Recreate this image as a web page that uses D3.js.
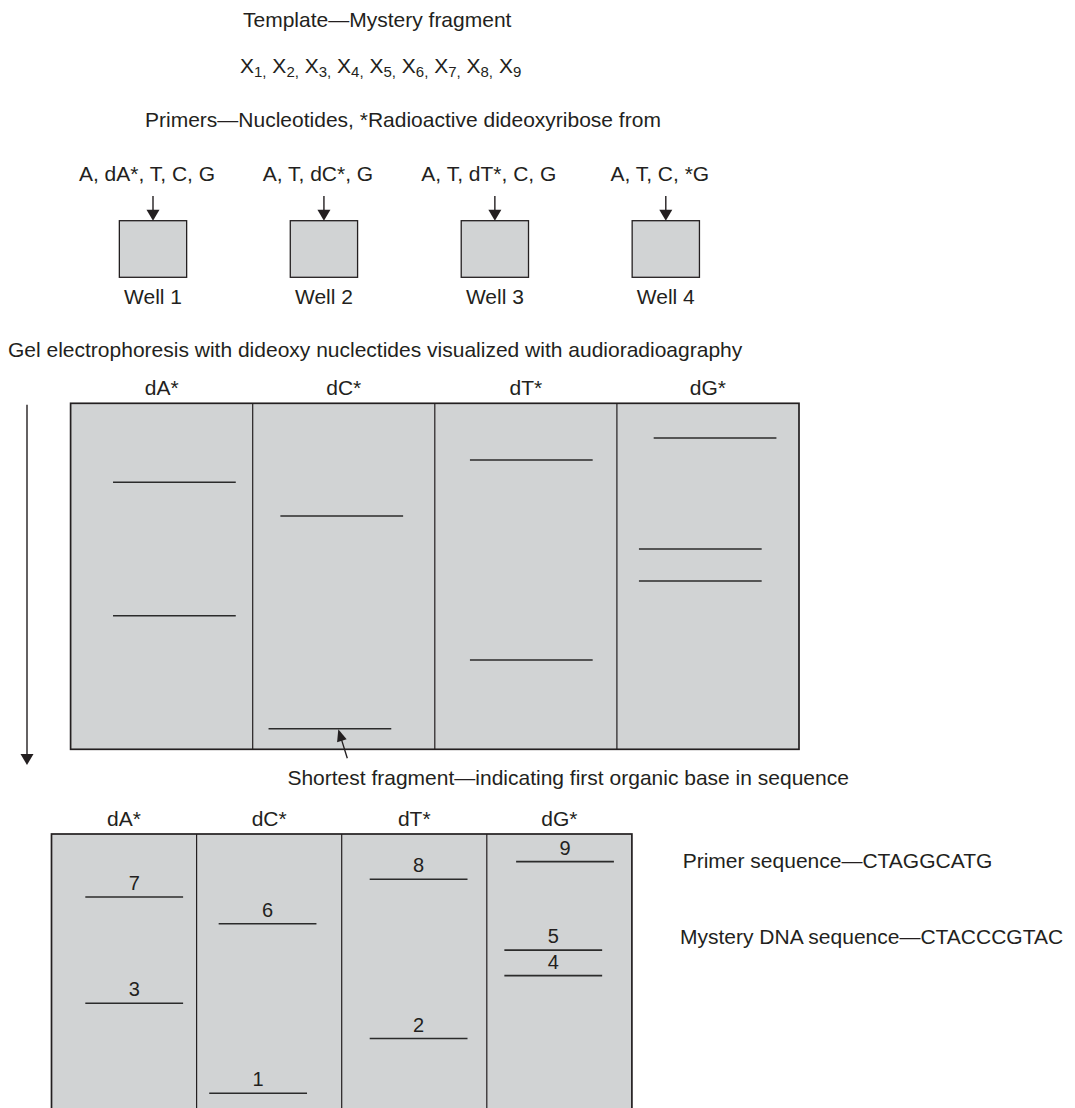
<!DOCTYPE html>
<html>
<head>
<meta charset="utf-8">
<script src="https://cdn.jsdelivr.net/npm/d3@7"></script>
<style>
  html, body { margin: 0; padding: 0; background: #ffffff; }
  svg { display: block; }
  text { font-family: "Liberation Sans", Arial, Helvetica, sans-serif; fill: #231f20; }
</style>
</head>
<body>
<div id="chart"></div>
<script>
// ---------------- data ----------------
const templateTitle = "Template\u2014Mystery fragment";
const templateIndices = [1, 2, 3, 4, 5, 6, 7, 8, 9];
const primerTitle = "Primers\u2014Nucleotides, *Radioactive dideoxyribose from";
const wellNames = ["Well 1", "Well 2", "Well 3", "Well 4"];
const wellMixes = ["A, dA*, T, C, G", "A, T, dC*, G", "A, T, dT*, C, G", "A, T, C, *G"];
const gelTitle = "Gel electrophoresis with dideoxy nuclectides visualized with audioradioagraphy";
const laneNames = ["dA*", "dC*", "dT*", "dG*"];
// bands listed by fragment order (1 = shortest)
const bandOrder = [1, 2, 3, 4, 5, 6, 7, 8, 9];
const bandLane = ["dC*", "dT*", "dA*", "dG*", "dG*", "dC*", "dA*", "dT*", "dG*"];
const bandMigration = [94.05, 74.19, 61.39, 51.36, 42.11, 32.57, 22.83, 16.39, 10.03]; // % of gel length
const bandShift = [-0.076, 0.030, 0.070, -0.042, -0.042, -0.011, 0.070, 0.030, 0.039];  // lateral drift, lane widths
const shortestNote = "Shortest fragment\u2014indicating first organic base in sequence";
const primerSequence = "Primer sequence\u2014CTAGGCATG";
const mysterySequence = "Mystery DNA sequence\u2014CTACCCGTAC";

const bands = bandOrder.map((o, i) => ({
  order: o, lane: bandLane[i], migration: bandMigration[i], shift: bandShift[i]
}));

// ---------------- drawing ----------------
const W = 1075, H = 1108;
const ink = "#231f20";
const gelFill = "#d1d3d4";
const FS = 21;

const svg = d3.select("#chart").append("svg")
  .attr("width", W).attr("height", H)
  .attr("viewBox", `0 0 ${W} ${H}`);

function arrowHead(g, tipX, tipY, dirX, dirY, len, wid) {
  const n = Math.hypot(dirX, dirY);
  const ux = dirX / n, uy = dirY / n;
  const bx = tipX - ux * len, by = tipY - uy * len;
  const px = -uy * wid / 2, py = ux * wid / 2;
  g.append("path")
    .attr("d", `M${tipX},${tipY}L${bx + px},${by + py}L${bx - px},${by - py}Z`)
    .attr("fill", ink);
}

// header texts
svg.append("text").attr("x", 243).attr("y", 27).attr("font-size", FS).text(templateTitle);

const xLine = svg.append("text").attr("x", 240).attr("y", 72.5).attr("font-size", FS);
templateIndices.forEach((d, i) => {
  xLine.append("tspan").attr("dy", i === 0 ? 0 : -4).text((i === 0 ? "" : " ") + "X");
  xLine.append("tspan").attr("dy", 4).attr("font-size", 15)
    .text(d + (i < templateIndices.length - 1 ? "," : ""));
});

svg.append("text").attr("x", 145).attr("y", 127).attr("font-size", FS).text(primerTitle);

// wells
const wellX = d3.scalePoint().domain(wellNames).range([153, 665.8]);
const boxW = 67.3, boxTop = 220.7, boxH = 56.6;
const wells = svg.append("g");
wellNames.forEach((w, i) => {
  const cx = wellX(w);
  wells.append("text").attr("x", cx - 6).attr("y", 180.5).attr("font-size", FS)
    .attr("text-anchor", "middle").text(wellMixes[i]);
  wells.append("line").attr("x1", cx).attr("x2", cx).attr("y1", 196).attr("y2", 211)
    .attr("stroke", ink).attr("stroke-width", 1.4);
  arrowHead(wells, cx, boxTop, 0, 1, 11, 13);
  wells.append("rect").attr("x", cx - boxW / 2).attr("y", boxTop)
    .attr("width", boxW).attr("height", boxH)
    .attr("fill", gelFill).attr("stroke", ink).attr("stroke-width", 1.3);
  wells.append("text").attr("x", cx).attr("y", 304).attr("font-size", FS)
    .attr("text-anchor", "middle").text(w);
});

svg.append("text").attr("x", 8).attr("y", 357).attr("font-size", FS).text(gelTitle);

// gel drawing
function drawGel(x0, y0, w, h, numbered) {
  const g = svg.append("g");
  const lane = d3.scaleBand().domain(laneNames).range([x0, x0 + w]).padding(0);
  const mig = d3.scaleLinear().domain([0, 100]).range([y0, y0 + h]);
  const shift = d3.scaleLinear().domain([0, 1]).range([0, lane.bandwidth()]);
  const bandLen = lane.bandwidth() * 0.674;

  g.append("rect").attr("x", x0).attr("y", y0).attr("width", w).attr("height", h)
    .attr("fill", gelFill).attr("stroke", ink).attr("stroke-width", 1.7);
  laneNames.slice(1).forEach(l => {
    g.append("line").attr("x1", lane(l)).attr("x2", lane(l))
      .attr("y1", y0).attr("y2", y0 + h).attr("stroke", ink).attr("stroke-width", 1.2);
  });
  laneNames.forEach(l => {
    g.append("text").attr("x", lane(l) + lane.bandwidth() / 2).attr("y", y0 - 8.5)
      .attr("font-size", FS).attr("text-anchor", "middle").text(l);
  });
  const pos = d => {
    const cx = lane(d.lane) + lane.bandwidth() / 2 + shift(d.shift);
    return { cx, y: mig(d.migration) };
  };
  g.selectAll("line.band").data(bands).join("line").attr("class", "band")
    .attr("x1", d => pos(d).cx - bandLen / 2)
    .attr("x2", d => pos(d).cx + bandLen / 2)
    .attr("y1", d => pos(d).y).attr("y2", d => pos(d).y)
    .attr("stroke", "#2b2b2b").attr("stroke-width", 1.6);
  if (numbered) {
    g.selectAll("text.num").data(bands).join("text").attr("class", "num")
      .attr("x", d => pos(d).cx).attr("y", d => pos(d).y - 7)
      .attr("font-size", 20).attr("text-anchor", "middle").text(d => d.order);
  }
  return { lane, mig, shift, pos };
}

const gel1 = drawGel(70.6, 403.3, 728.4, 346, false);
const gel2 = drawGel(51.5, 834, 580.4, 346 * 580.4 / 728.4, true);

// migration direction arrow
const dir = svg.append("g");
dir.append("line").attr("x1", 27).attr("x2", 27).attr("y1", 404.7).attr("y2", 755)
  .attr("stroke", ink).attr("stroke-width", 1.4);
arrowHead(dir, 27, 765, 0, 1, 11, 13);

// annotation of shortest fragment
const shortest = bands[0];
const sp = gel1.pos(shortest);
const tip = { x: sp.cx + 8.4, y: sp.y + 0.6 };
const tail = { x: tip.x + 9, y: tip.y + 29 };
const ann = svg.append("g");
ann.append("line").attr("x1", tail.x).attr("y1", tail.y)
  .attr("x2", tip.x + (tail.x - tip.x) * 0.35).attr("y2", tip.y + (tail.y - tip.y) * 0.35)
  .attr("stroke", ink).attr("stroke-width", 1.3);
arrowHead(ann, tip.x, tip.y, tip.x - tail.x, tip.y - tail.y, 12, 10);
svg.append("text").attr("x", 287.4).attr("y", 784.5).attr("font-size", FS).text(shortestNote);

// sequences
svg.append("text").attr("x", 682.7).attr("y", 868.3).attr("font-size", FS).text(primerSequence);
svg.append("text").attr("x", 680).attr("y", 944.3).attr("font-size", FS).text(mysterySequence);
</script>
</body>
</html>
